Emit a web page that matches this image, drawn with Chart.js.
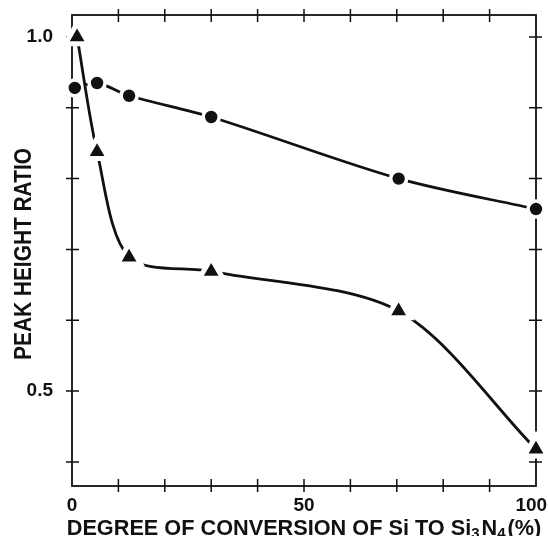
<!DOCTYPE html>
<html>
<head>
<meta charset="utf-8">
<script src="https://cdn.jsdelivr.net/npm/chart.js@4.4.1/dist/chart.umd.min.js"></script>
<style>
  html, body { margin: 0; padding: 0; background: #fff; }
  #wrap { width: 548px; height: 536px; }
</style>
</head>
<body>
<div id="wrap"><canvas id="chart" width="548" height="536"></canvas></div>
<script>
// Circles series
const circleX = [0.6, 5.4, 12.3, 30, 70.4, 100];
const circleY = [0.928, 0.935, 0.917, 0.887, 0.800, 0.757];

// Triangles series
const triangleX = [1.1, 5.4, 12.3, 30, 70.4, 100];
const triangleY = [1.0, 0.838, 0.689, 0.669, 0.613, 0.418];

// Axis ticks and their labels
const xTicks = [0, 10, 20, 30, 40, 50, 60, 70, 80, 90, 100];
const xTickLabels = ['0', '', '', '', '', '50', '', '', '', '', '100\u2002'];
const yTicks = [0.4, 0.5, 0.6, 0.7, 0.8, 0.9, 1.0];
const yTickLabels = ['', '0.5', '', '', '', '', '1.0'];

const FONT = '"Liberation Sans", Arial, Helvetica, sans-serif';
const INK = '#111';

const toPoints = (xs, ys) => xs.map((x, i) => ({ x: x, y: ys[i] }));

// Box round the plot with ticks crossing the frame
const framePlugin = {
  id: 'frame',
  beforeDatasetsDraw(chart) {
    const { ctx, chartArea: a, scales: { x, y } } = chart;
    ctx.save();
    ctx.strokeStyle = INK;
    ctx.lineWidth = 1.8;
    ctx.strokeRect(a.left, a.top, a.right - a.left, a.bottom - a.top);
    ctx.lineWidth = 1.5;
    ctx.beginPath();
    xTicks.slice(1, -1).forEach(v => {
      const px = x.getPixelForValue(v);
      ctx.moveTo(px, a.bottom - 7); ctx.lineTo(px, a.bottom + 6);
      ctx.moveTo(px, a.top - 6); ctx.lineTo(px, a.top + 7);
    });
    yTicks.forEach(v => {
      const py = y.getPixelForValue(v);
      ctx.moveTo(a.left - 6, py); ctx.lineTo(a.left + 7, py);
      ctx.moveTo(a.right - 7, py); ctx.lineTo(a.right + 6, py);
    });
    ctx.stroke();
    ctx.restore();
  },
  afterDraw(chart) {
    const { ctx, chartArea: a } = chart;
    ctx.save();
    ctx.fillStyle = INK;

    // y title, a little condensed like the print
    ctx.save();
    ctx.translate(24, 254);
    ctx.rotate(-Math.PI / 2);
    ctx.scale(0.87, 1);
    ctx.font = 'bold 24px ' + FONT;
    ctx.textAlign = 'center';
    ctx.textBaseline = 'middle';
    ctx.fillText('PEAK HEIGHT RATIO', 0, 0);
    ctx.restore();

    // x title with subscripts
    const parts = [
      { t: 'DEGREE OF CONVERSION OF Si TO Si', sub: false },
      { t: '3', sub: true },
      { t: 'N', sub: false },
      { t: '4', sub: true },
      { t: '(%)', sub: false }
    ];
    const mainFont = 'bold 21.7px ' + FONT;
    const subFont = 'bold 15px ' + FONT;
    let total = 0;
    parts.forEach(p => {
      ctx.font = p.sub ? subFont : mainFont;
      p.w = ctx.measureText(p.t).width + (p.sub ? 2 : 0);
      total += p.w;
    });
    let cx = (a.left + a.right) / 2 - total / 2;
    ctx.textAlign = 'left';
    ctx.textBaseline = 'alphabetic';
    parts.forEach(p => {
      ctx.font = p.sub ? subFont : mainFont;
      ctx.fillText(p.t, cx, p.sub ? 538 : 535);
      cx += p.w;
    });
    ctx.restore();
  }
};

new Chart(document.getElementById('chart'), {
  type: 'line',
  data: {
    datasets: [
      {
        label: 'circles',
        data: toPoints(circleX, circleY),
        order: 1,
        borderColor: INK,
        borderWidth: 2.8,
        tension: 0.3,
        fill: false,
        clip: false,
        pointStyle: 'circle',
        pointRadius: 8,
        pointBorderWidth: 3.6,
        pointBackgroundColor: INK,
        pointBorderColor: '#fff'
      },
      {
        label: 'triangles',
        data: toPoints(triangleX, triangleY),
        order: 0,
        borderColor: INK,
        borderWidth: 2.8,
        tension: 0.3,
        fill: false,
        clip: false,
        pointStyle: 'triangle',
        pointRadius: 13.5,
        pointBorderWidth: 5,
        pointBackgroundColor: INK,
        pointBorderColor: '#fff'
      }
    ]
  },
  options: {
    responsive: false,
    animation: false,
    events: [],
    layout: { autoPadding: false, padding: { top: 15, right: 12, left: 0, bottom: 0 } },
    plugins: {
      legend: { display: false },
      tooltip: { enabled: false }
    },
    scales: {
      x: {
        type: 'linear',
        min: 0,
        max: 100,
        grid: { display: false, drawTicks: false },
        border: { display: false },
        afterBuildTicks: (scale) => { scale.ticks = xTicks.map(v => ({ value: v })); },
        afterFit: (scale) => { scale.height = 50; scale.paddingRight = 0; scale.paddingLeft = 0; },
        ticks: {
          padding: 10,
          color: INK,
          maxRotation: 0,
          autoSkip: false,
          font: { family: FONT, size: 19, weight: 'bold', lineHeight: 1 },
          callback: (value, index) => xTickLabels[index]
        }
      },
      y: {
        type: 'linear',
        min: 0.366,
        max: 1.031,
        grid: { display: false, drawTicks: false },
        border: { display: false },
        afterBuildTicks: (scale) => { scale.ticks = yTicks.map(v => ({ value: v })); },
        afterFit: (scale) => { scale.width = 72; scale.paddingTop = 0; scale.paddingBottom = 0; },
        ticks: {
          padding: 19,
          color: INK,
          autoSkip: false,
          font: { family: FONT, size: 19, weight: 'bold', lineHeight: 1 },
          callback: (value, index) => yTickLabels[index]
        }
      }
    }
  },
  plugins: [framePlugin]
});
</script>
</body>
</html>
